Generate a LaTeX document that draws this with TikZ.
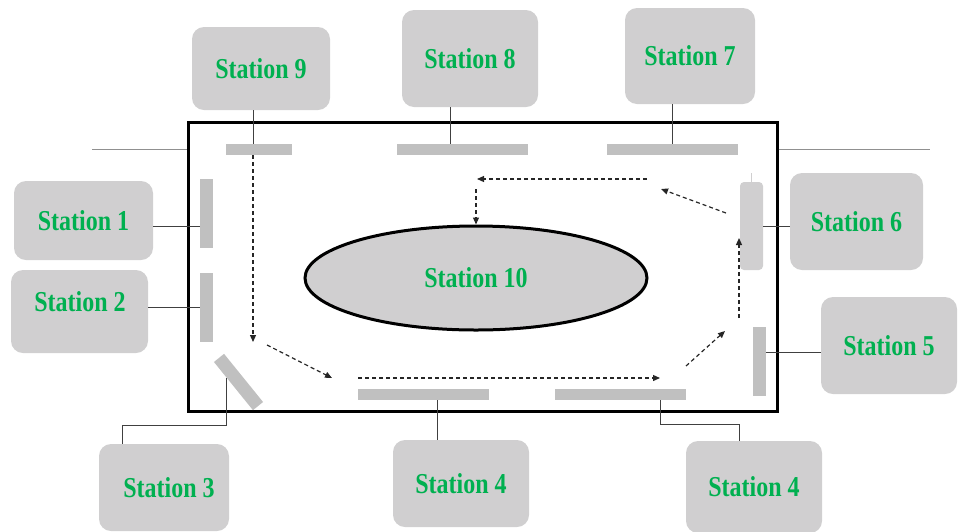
\documentclass[tikz,border=0pt]{standalone}
\usepackage{fontspec}
\setmainfont{Liberation Serif}
\usetikzlibrary{arrows.meta,shapes.geometric,calc}
\definecolor{boxgray}{HTML}{D0CFD0}
\definecolor{bargray}{HTML}{C0C0C0}
\definecolor{txtgreen}{HTML}{00B050}
\definecolor{linegray}{HTML}{404040}
\definecolor{railgray}{HTML}{909090}
\newcommand{\stlab}[1]{\scalebox{1}[1.2]{#1}}
\begin{document}
\begin{tikzpicture}[x=1pt,y=-1pt,
 stbox/.style={fill=boxgray, rounded corners=12pt, inner sep=0pt,
   font=\fontsize{24}{28}\selectfont\bfseries, text=txtgreen},
 bar/.style={fill=bargray, inner sep=0pt, draw=none},
 conn/.style={draw=linegray, line width=1pt},
 rail/.style={draw=railgray, line width=1pt},
 flow/.style={draw=black!85, line width=1.2pt, dash pattern=on 4pt off 3pt,
   -{Triangle[length=7pt,width=6pt]}},
]
\useasboundingbox (0,0) rectangle (963,531);

% hall
\node[draw=black, line width=3pt, minimum width=589pt, minimum height=289pt, inner sep=0pt] (hall) at (482.5,266.5) {};
\draw[rail] (92,149.5) -- (hall.west |- 0,149.5);
\draw[rail] (hall.east |- 0,149.5) -- (930,149.5);

% station boxes
\node[stbox, minimum width=138pt, minimum height=83pt] (s9) at (261,68.5) {\stlab{Station 9}};
\node[stbox, minimum width=136pt, minimum height=97pt] (s8) at (470,58.5) {\stlab{Station 8}};
\node[stbox, minimum width=130pt, minimum height=96pt] (s7) at (690,56) {\stlab{Station 7}};
\node[stbox, minimum width=139pt, minimum height=79pt] (s1) at (83.5,220.5) {\stlab{Station 1}};
\node[stbox, minimum width=137pt, minimum height=83pt] (s2) at (79.5,311.5) {};
\node[font=\fontsize{24}{28}\selectfont\bfseries, text=txtgreen, inner sep=0pt] (s2t) at (80,302) {\stlab{Station 2}};
\node[stbox, minimum width=133pt, minimum height=97pt] (s6) at (856.5,221.5) {\stlab{Station 6}};
\node[stbox, minimum width=136pt, minimum height=97pt] (s5) at (889,345.5) {\stlab{Station 5}};
\node[stbox, minimum width=130pt, minimum height=87pt] (s3) at (164,487.5) {\hspace*{10pt}\stlab{Station 3}};
\node[stbox, minimum width=136pt, minimum height=87pt] (s4a) at (461,483.5) {\stlab{Station 4}};
\node[stbox, minimum width=136pt, minimum height=92pt] (s4b) at (754,487) {\stlab{Station 4}};

% central station
\node[ellipse, draw=black, line width=3pt, fill=boxgray, minimum width=342pt, minimum height=104pt,
  inner sep=0pt, font=\fontsize{24}{28}\selectfont\bfseries, text=txtgreen] (s10) at (476,278) {\stlab{Station 10}};

% bars
\node[bar, minimum width=66pt, minimum height=11pt] (b9) at (259,149.5) {};
\node[bar, minimum width=131pt, minimum height=11pt] (b8) at (462.5,149.5) {};
\node[bar, minimum width=131pt, minimum height=11pt] (b7) at (672.5,149.5) {};
\node[bar, minimum width=13pt, minimum height=69pt] (b1) at (206.5,213.5) {};
\node[bar, minimum width=13pt, minimum height=69pt] (b2) at (206.5,307.5) {};
\node[bar, minimum width=13pt, minimum height=69pt] (b5) at (759.5,361.5) {};
\node[bar, minimum width=131pt, minimum height=11pt] (b4a) at (423.5,394.5) {};
\node[bar, minimum width=131pt, minimum height=11pt] (b4b) at (620.5,394.5) {};
\node[bar, minimum width=62pt, minimum height=13pt, rotate=-51] (b3) at (238.5,382) {};
\node[fill=boxgray, rounded corners=4pt, inner sep=0pt, minimum width=23pt, minimum height=88pt] (b6) at (751.5,226) {};
\draw[draw=boxgray, line width=1pt] (b6.north) -- ++(0,-9);

% connectors
\draw[conn] ([xshift=-8pt]s9.south) -- ([xshift=-8pt]s9.south |- b9.north);
\draw[conn] ([xshift=-20pt]s8.south) -- ([xshift=-20pt]s8.south |- b8.north);
\draw[conn] (b7.north) -- (b7.north |- s7.south);
\draw[conn] (s1.east |- 0,226) -- (b1.west |- 0,226);
\draw[conn] (s2.east |- b2.west) -- (b2.west);
\draw[conn] (b6.east) -- (s6.west |- b6.east);
\draw[conn] (b5.east |- 0,352) -- (s5.west |- 0,352);
\coordinate (c3) at ($(b3.south west)!0.335!(b3.south east)$);
\draw[conn] (c3) -- (c3 |- 0,425) -| ([xshift=-42pt]s3.north);
\draw[conn] ([xshift=13.5pt]b4a.south) -- ([xshift=13.5pt]b4a.south |- s4a.north);
\draw[conn] ([xshift=39.5pt]b4b.south) -- ++(0,24.5) -| ([xshift=-15pt]s4b.north);

% flow arrows
\coordinate (f1) at (253,155);
\coordinate (f2) at (253,342);
\coordinate (f3) at (267,345);
\coordinate (f4) at (332,378);
\coordinate (f5) at (358,378);
\coordinate (f6) at (660,378);
\coordinate (f7) at (686,366);
\coordinate (f8) at (725,331);
\coordinate (f9) at (739,318);
\coordinate (f10) at (739,238);
\coordinate (f11) at (726,213);
\coordinate (f12) at (661,189);
\coordinate (f13) at (647,179);
\coordinate (f14) at (477,179);
\coordinate (f15) at (476,189);
\draw[flow] (f1) -- (f2);
\draw[flow] (f3) -- (f4);
\draw[flow] (f5) -- (f6);
\draw[flow] (f7) -- (f8);
\draw[flow] (f9) -- (f10);
\draw[flow] (f11) -- (f12);
\draw[flow] (f13) -- (f14);
\draw[flow] (f15) -- (s10.north);
\end{tikzpicture}
\end{document}
